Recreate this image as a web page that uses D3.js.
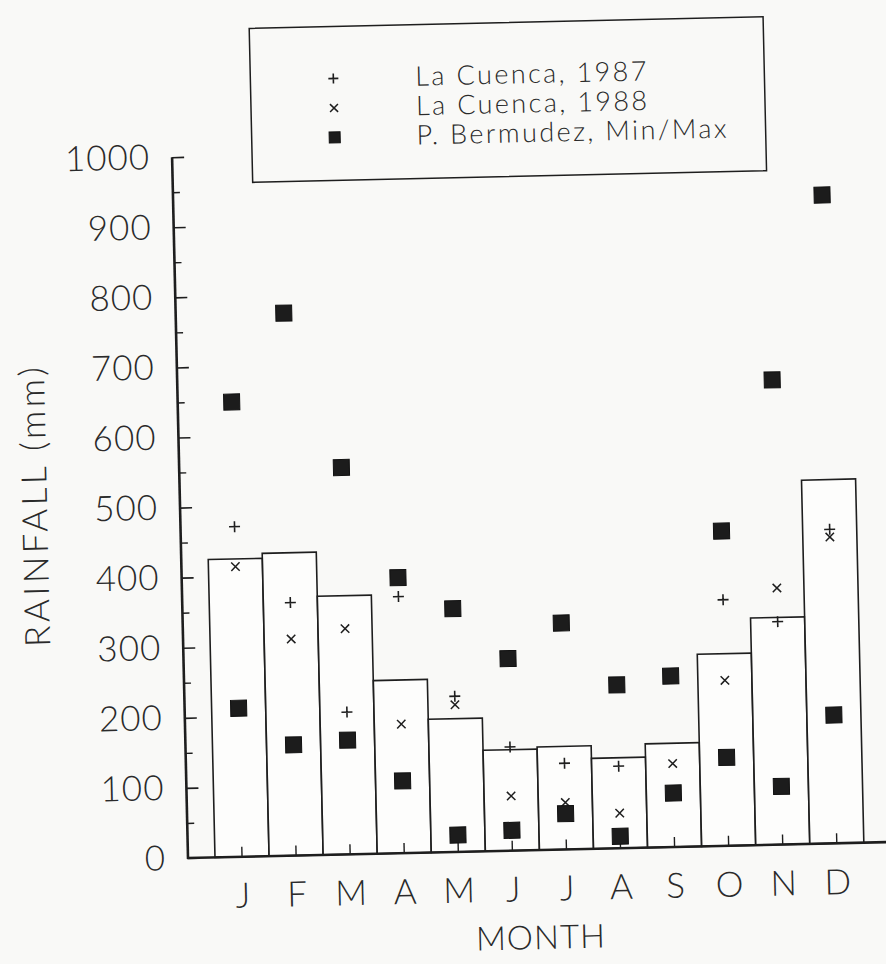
<!DOCTYPE html>
<html>
<head>
<meta charset="utf-8">
<script src="https://cdn.jsdelivr.net/npm/d3@7"></script>
<style>
  body { margin: 0; background: #f9f9f7; }
  svg { display: block; }
  text { font-family: Lato, "Open Sans", sans-serif; font-weight: 300; fill: #2a2a2a; }
</style>
</head>
<body>
<div id="chart"></div>
<script>
// month labels
const months = ["J", "F", "M", "A", "M", "J", "J", "A", "S", "O", "N", "D"];
// bars (mm)
const barValues = [425, 432, 369, 247, 190, 144, 147, 129, 148, 274, 324, 519];
// La Cuenca maximum daily rainfall
const cuenca1987 = [471, 361, 203, 366, 222, 148, 123, 117, null, 351, 318, 448];
const cuenca1988 = [414, 309, 322, 184, 210, 78, 67, 50, 119, 236, 366, 437];
// P. Bermudez range
const bermudezMin = [212, 158, 163, 103, 24, 29, 51, 17, 77, 126, 83, 183];
const bermudezMax = [649, 774, 552, 393, 347, 274, 323, 233, 244, 449, 663, 925];
const yTicks = [0, 100, 200, 300, 400, 500, 600, 700, 800, 900, 1000];
const yMinorTicks = [50, 150, 250, 350, 450, 550, 650, 750, 850, 950];
const legendItems = ["La Cuenca, 1987", "La Cuenca, 1988", "P. Bermudez, Min/Max"];

const width = 886, height = 964;
const ink = "#1e1e1e";

const svg = d3.select("#chart")
  .append("svg")
  .attr("width", width)
  .attr("height", height);

// the scanned page is a little tilted, so the whole plot is turned around the origin
const g = svg.append("g")
  .attr("transform", "translate(188,858) rotate(-1.3)");

const x = d3.scaleBand()
  .domain(d3.range(months.length))
  .range([27, 676]);

const y = d3.scaleLinear()
  .domain([0, 1000])
  .range([0, -701]);

// bars
g.append("g")
  .selectAll("rect")
  .data(barValues)
  .join("rect")
  .attr("x", (d, i) => x(i))
  .attr("y", d => y(d))
  .attr("width", x.bandwidth())
  .attr("height", d => -y(d))
  .attr("fill", "#ffffff")
  .attr("fill-opacity", 0.6)
  .attr("stroke", ink)
  .attr("stroke-width", 1.6);

// x axis
const xAxis = g.append("g")
  .call(d3.axisBottom(x)
    .tickFormat(i => months[i])
    .tickSizeInner(-10)
    .tickSizeOuter(0)
    .tickPadding(26));
xAxis.select(".domain").remove();
xAxis.selectAll(".tick line").attr("stroke", ink).attr("stroke-width", 1.4);
xAxis.selectAll(".tick text").style("font-size", "35px").attr("fill", "#2a2a2a");

g.append("line")
  .attr("x1", -1).attr("x2", 730)
  .attr("y1", 0).attr("y2", 0)
  .attr("stroke", ink).attr("stroke-width", 2.6);

// y axis
const yAxis = g.append("g")
  .call(d3.axisLeft(y)
    .tickValues(yTicks)
    .tickFormat(d3.format("d"))
    .tickSizeInner(-12)
    .tickSizeOuter(0)
    .tickPadding(22));
yAxis.select(".domain").remove();
yAxis.selectAll(".tick line").attr("stroke", ink).attr("stroke-width", 1.6);
yAxis.selectAll(".tick text")
  .style("font-size", "35px")
  .style("letter-spacing", "1px")
  .attr("fill", "#2a2a2a");

const yMinor = g.append("g")
  .call(d3.axisLeft(y)
    .tickValues(yMinorTicks)
    .tickSizeInner(-7)
    .tickSizeOuter(0)
    .tickFormat(""));
yMinor.select(".domain").remove();
yMinor.selectAll(".tick line").attr("stroke", ink).attr("stroke-width", 1.4);

g.append("line")
  .attr("x1", 0).attr("x2", 0)
  .attr("y1", 1).attr("y2", y(1000))
  .attr("stroke", ink).attr("stroke-width", 2.6);

// markers
function plus(sel, s) {
  sel.append("path")
    .attr("d", `M${-s},0H${s}M0,${-s}V${s}`)
    .attr("stroke", ink).attr("stroke-width", 1.6).attr("fill", "none");
}
function cross(sel, s) {
  sel.append("path")
    .attr("d", `M${-s},${-s}L${s},${s}M${-s},${s}L${s},${-s}`)
    .attr("stroke", ink).attr("stroke-width", 1.5).attr("fill", "none");
}
function square(sel, s) {
  sel.append("rect")
    .attr("x", -s).attr("y", -s)
    .attr("width", 2 * s).attr("height", 2 * s)
    .attr("fill", "#1c1c1c")
    .attr("stroke", "#111").attr("stroke-width", 1);
}

const cx = i => x(i) + x.bandwidth() / 2;

g.append("g")
  .selectAll("g")
  .data(cuenca1987.map((v, i) => ({ v, i })).filter(d => d.v != null))
  .join("g")
  .attr("transform", d => `translate(${cx(d.i)},${y(d.v)})`)
  .call(plus, 5.5);

g.append("g")
  .selectAll("g")
  .data(cuenca1988.map((v, i) => ({ v, i })))
  .join("g")
  .attr("transform", d => `translate(${cx(d.i)},${y(d.v)})`)
  .call(cross, 4.2);

const bermudez = bermudezMin.map((v, i) => ({ v, i }))
  .concat(bermudezMax.map((v, i) => ({ v, i })));
g.append("g")
  .selectAll("g")
  .data(bermudez)
  .join("g")
  .attr("transform", d => `translate(${cx(d.i)},${y(d.v)})`)
  .call(square, 8);

// axis titles
g.append("text")
  .attr("transform", "translate(-147,-356) rotate(-90)")
  .attr("text-anchor", "middle")
  .attr("dominant-baseline", "central")
  .style("font-size", "35px")
  .style("letter-spacing", "3.5px")
  .text("RAINFALL (mm)");

g.append("text")
  .attr("x", 351)
  .attr("y", 99)
  .attr("text-anchor", "middle")
  .style("font-size", "33px")
  .style("letter-spacing", "1px")
  .text("MONTH");

// legend
const legend = g.append("g").attr("transform", "translate(80,-828)");
legend.append("rect")
  .attr("width", 514).attr("height", 154)
  .attr("fill", "none")
  .attr("stroke", ink).attr("stroke-width", 1.5);

const rows = legend.selectAll("g")
  .data(legendItems)
  .join("g")
  .attr("transform", (d, i) => `translate(0,${52 + i * 29.5})`);

rows.filter((d, i) => i === 0).append("g").attr("transform", "translate(83,0)").call(plus, 5);
rows.filter((d, i) => i === 1).append("g").attr("transform", "translate(83,0)").call(cross, 4);
rows.filter((d, i) => i === 2).append("g").attr("transform", "translate(83,0)").call(square, 5.5);

rows.append("text")
  .attr("x", 165)
  .attr("y", 9)
  .style("font-size", "27px")
  .style("letter-spacing", "2.4px")
  .text(d => d);
</script>
</body>
</html>
